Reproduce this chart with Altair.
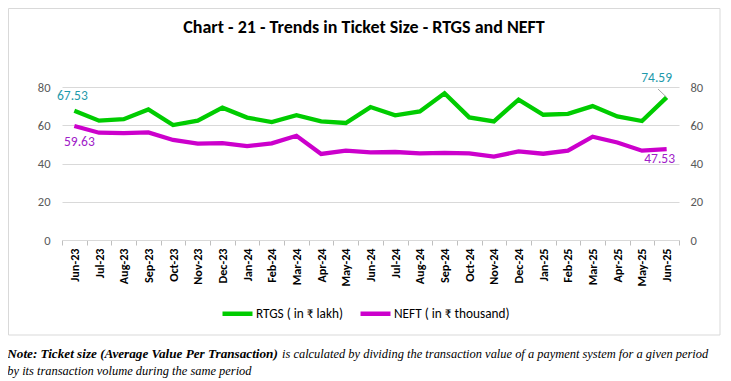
import altair as alt
import pandas as pd

months = ["Jun-23", "Jul-23", "Aug-23", "Sep-23", "Oct-23", "Nov-23", "Dec-23",
          "Jan-24", "Feb-24", "Mar-24", "Apr-24", "May-24", "Jun-24", "Jul-24",
          "Aug-24", "Sep-24", "Oct-24", "Nov-24", "Dec-24", "Jan-25", "Feb-25",
          "Mar-25", "Apr-25", "May-25", "Jun-25"]
rtgs = [67.53, 62.4, 63.2, 68.3, 60.1, 62.4, 69.2, 64.0, 61.7, 65.3, 62.0, 61.2,
        69.5, 65.2, 67.2, 76.7, 64.1, 62.0, 73.4, 65.5, 66.0, 70.0, 64.6, 62.2, 74.59]
neft = [59.63, 56.1, 55.9, 56.3, 52.3, 50.4, 50.7, 49.1, 50.5, 54.5, 45.0, 46.7,
        45.8, 46.0, 45.3, 45.6, 45.3, 43.6, 46.3, 45.1, 46.7, 54.0, 51.0, 46.7, 47.53]
series_names = ["RTGS ( in ₹ lakh)", "NEFT ( in ₹ thousand)"]
series_colors = ["#00CC00", "#CC00CC"]
label_colors = ["#1E9AAB", "#A020C8"]
title_text = "Chart - 21 - Trends in Ticket Size - RTGS and NEFT"
note_bold = "Note: Ticket size (Average Value Per Transaction)"
note_rest = "is calculated by dividing the transaction value of a payment system for a given period"
note_line2 = "by its transaction volume during the same period"

rows = []
for i, m in enumerate(months):
    rows.append({"month": m, "series": series_names[0], "value": rtgs[i]})
    rows.append({"month": m, "series": series_names[1], "value": neft[i]})
df = pd.DataFrame(rows)

FONT = "Carlito, Lato, 'DejaVu Sans', sans-serif"
SERIF = "'Liberation Serif', serif"

ydom = alt.Scale(domain=[0, 80])
xenc = alt.X("month:N", sort=months, title=None,
             scale=alt.Scale(type="band", paddingInner=0, paddingOuter=0),
             axis=alt.Axis(tickBand="extent", labelAngle=270, labelFont=FONT,
                           labelFontWeight="bold", labelFontSize=12.2,
                           labelColor="black", tickColor="#BFBFBF", tickSize=5,
                           domainColor="#D9D9D9", grid=False, labelPadding=3))

lines = alt.Chart(df).mark_line(strokeWidth=4.3).encode(
    x=xenc,
    y=alt.Y("value:Q", scale=ydom, title=None,
            axis=alt.Axis(values=[0, 20, 40, 60, 80], domain=False, ticks=False,
                          gridColor="#D9D9D9", labelColor="#595959", labelFontSize=12.5,
                          labelPadding=12, labelFont=FONT)),
    color=alt.Color("series:N", sort=series_names,
                    scale=alt.Scale(domain=series_names, range=series_colors),
                    legend=alt.Legend(title=None, orient="none", legendX=158, legendY=209,
                                      direction="horizontal", symbolType="stroke",
                                      symbolStrokeWidth=4.5, symbolSize=900,
                                      labelFont=FONT, labelFontSize=13.3,
                                      labelColor="black", columnPadding=7,
                                      labelOffset=1)),
)

right_axis = alt.Chart(df).mark_line(opacity=0).encode(
    x=alt.X("month:N", sort=months),
    y=alt.Y("value:Q", scale=ydom, title=None,
            axis=alt.Axis(orient="right", values=[0, 20, 40, 60, 80], domain=False,
                          ticks=False, grid=False, labelColor="#595959",
                          labelFontSize=12.5, labelPadding=11, labelFont=FONT)),
)


def value_label(series, month, color, dx, dy):
    return alt.Chart(df).transform_filter(
        (alt.datum.series == series) & (alt.datum.month == month)
    ).mark_text(font=FONT, fontSize=13.5, color=color, dx=dx, dy=dy).encode(
        x=alt.X("month:N", sort=months),
        y=alt.Y("value:Q", scale=ydom, axis=None),
        text=alt.Text("value:Q", format=".2f"),
    )


lab1 = value_label(series_names[0], months[0], label_colors[0], -2, -15)
lab2 = value_label(series_names[1], months[0], label_colors[1], 5, 16)
lab3 = value_label(series_names[0], months[-1], label_colors[0], -10, -19)
lab4 = value_label(series_names[1], months[-1], label_colors[1], -7, 10)

leader = alt.Chart(df).transform_filter(
    (alt.datum.series == series_names[0]) & (alt.datum.month == months[-1])
).mark_rule(color="#A6A6A6", strokeWidth=1).encode(
    x=alt.X("month:N", sort=months),
    y=alt.Y("value:Q", scale=ydom, axis=None),
    x2=alt.value(596),
    y2=alt.value(2),
)

one = pd.DataFrame({"k": [0]})
border = alt.Chart(one).mark_rect(fillOpacity=0, stroke="#D9D9D9", strokeWidth=1).encode(
    x=alt.value(-53.5), x2=alt.value(658), y=alt.value(-78.5), y2=alt.value(248)
)
title = alt.Chart(one).mark_text(text=title_text, font=FONT, fontSize=18,
                                 fontWeight="bold", color="black",
                                 baseline="alphabetic").encode(
    x=alt.value(302), y=alt.value(-54)
)
note1 = alt.Chart(one).mark_text(text=note_bold, font=SERIF, fontSize=13.2,
                                 fontStyle="italic", fontWeight="bold", color="black",
                                 align="left", baseline="alphabetic").encode(
    x=alt.value(-54.7), y=alt.value(271)
)
note2 = alt.Chart(one).mark_text(text=note_rest, font=SERIF, fontSize=12.45,
                                 fontStyle="italic", color="black",
                                 align="left", baseline="alphabetic").encode(
    x=alt.value(220), y=alt.value(271)
)
note3 = alt.Chart(one).mark_text(text=note_line2, font=SERIF, fontSize=12.45,
                                 fontStyle="italic", color="black",
                                 align="left", baseline="alphabetic").encode(
    x=alt.value(-54.7), y=alt.value(288)
)

chart = alt.layer(
    border, lines, right_axis, leader, lab1, lab2, lab3, lab4, title, note1, note2, note3
).resolve_scale(y="independent").properties(
    width=617, height=153,
    autosize=alt.AutoSizeParams(type="none"),
    padding={"left": 54, "top": 79, "right": 44, "bottom": 141},
).configure_view(stroke=None)

chart.save("out.html", embed_options={"renderer": "svg", "actions": False})
